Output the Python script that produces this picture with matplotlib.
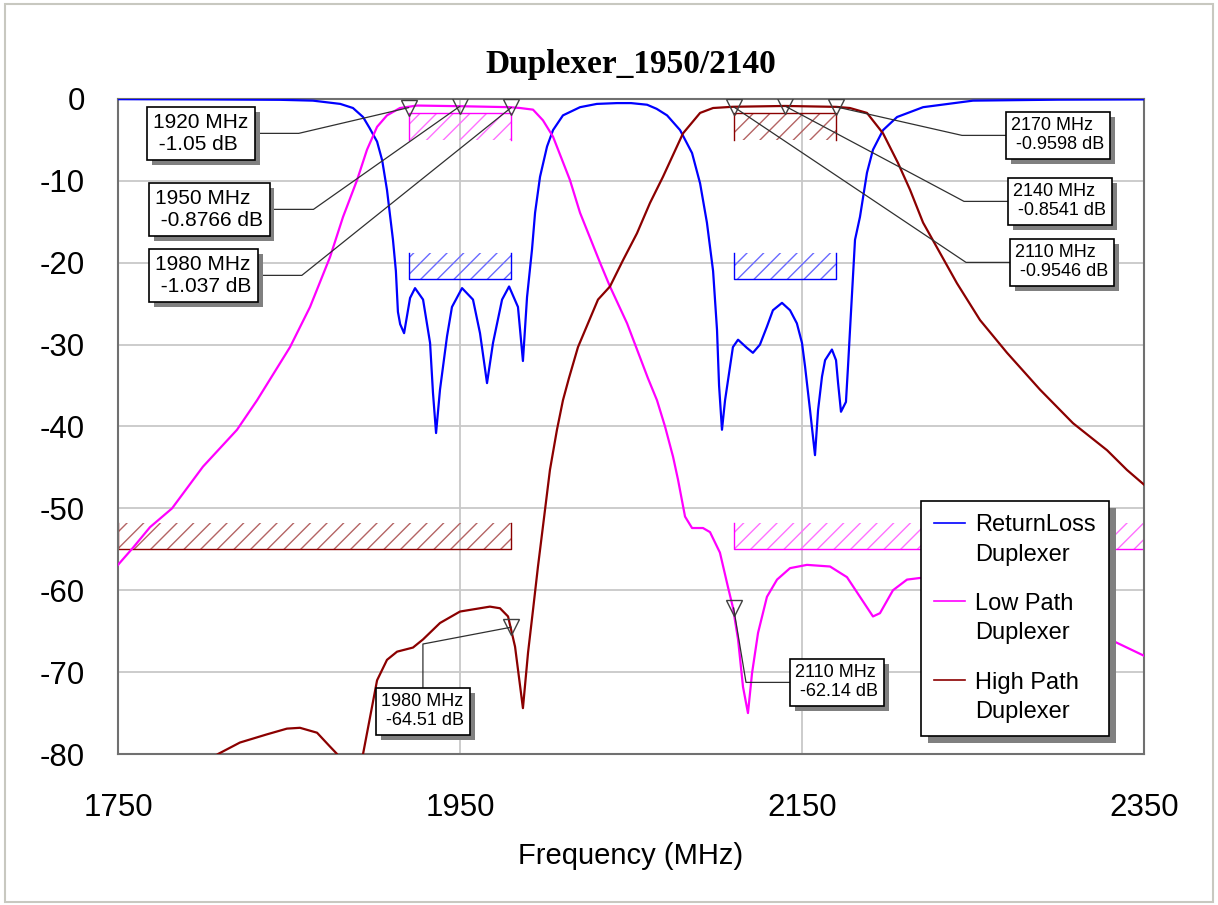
import matplotlib
matplotlib.use("Agg")
import matplotlib.pyplot as plt
import matplotlib.patheffects as pe
from matplotlib.patches import Rectangle
import numpy as np

# ReturnLoss Duplexer (S11)
rl_freq = [1750, 1800, 1845, 1864, 1880, 1887.4, 1893.3, 1897, 1901.5, 1904.5, 1907.3,
           1910.8, 1912.5, 1913.7, 1915, 1917.3, 1920.8, 1923.7, 1928.4, 1932.5, 1934.2,
           1936, 1938.3, 1942.4, 1945.3, 1951.2, 1957.6, 1961.7, 1965.8, 1969.3, 1974.6,
           1978.7, 1983.9, 1986.8, 1989.2, 1992.1, 1993.9, 1996.8, 2000.9, 2004.4, 2010.2,
           2020.2, 2030, 2041.8, 2050, 2059.4, 2065, 2071.1, 2078.7, 2085.7, 2090.4, 2094.4,
           2098, 2100.3, 2101.5, 2103.2, 2105, 2109.6, 2112.6, 2117.8, 2121.3, 2125.4, 2129.5,
           2133, 2138.3, 2143, 2147, 2150, 2151.8, 2154.7, 2157.6, 2159.4, 2161.7, 2163.5,
           2167.5, 2169.9, 2171.1, 2172.8, 2175.7, 2176.9, 2178.5, 2181, 2183.9, 2188,
           2191.5, 2197.4, 2205.6, 2220.8, 2250, 2300, 2350]
rl_db = [-0.02, -0.05, -0.1, -0.2, -0.6, -1.1, -2.2, -3.5, -5.2, -7.5, -11.1,
         -17.2, -21.0, -26.0, -27.5, -28.6, -24.3, -23.1, -24.5, -29.8, -35.9,
         -40.8, -35.5, -29.0, -25.4, -23.1, -24.5, -28.6, -34.7, -29.8, -24.5,
         -22.9, -25.4, -32.0, -24.2, -18.4, -13.9, -9.5, -5.8, -3.8, -2.0,
         -1.0, -0.6, -0.5, -0.5, -0.7, -1.2, -2.0, -3.8, -6.6, -10.3, -15.1,
         -21.0, -28.2, -35.0, -40.4, -36.8, -30.3, -29.4, -30.4, -31.0, -30.0, -27.8,
         -25.8, -24.9, -25.8, -27.4, -29.8, -32.7, -38.0, -43.5, -38.0, -33.9, -31.9,
         -30.6, -31.9, -34.7, -38.2, -37.0, -32.7, -26.6, -17.2, -14.4, -9.0,
         -6.2, -3.8, -2.2, -1.0, -0.2, -0.08, -0.05]

# Low Path Duplexer (Tx)
lp_freq = [1750, 1758.8, 1768.7, 1781.6, 1799.7, 1819.6, 1831.3, 1850.6, 1862.3, 1874,
           1881.6, 1889.8, 1895.6, 1901.5, 1907.3, 1914.9, 1924.9, 1950, 1979.2, 1985.1,
           1992.7, 1998.5, 2004.4, 2014.3, 2020.2, 2031.9, 2037.7, 2047.7, 2059.9, 2065.2,
           2069.9, 2074.6, 2077.5, 2081.6, 2085.7, 2092.1, 2096.2, 2102, 2106.7, 2109.6,
           2112.6, 2115.5, 2118.4, 2120.8, 2124.3, 2129.5, 2135.4, 2143, 2152.9, 2166.4,
           2176.3, 2183.9, 2191.5, 2195.6, 2203.2, 2211.4, 2219, 2260, 2300, 2330, 2350]
lp_db = [-56.9, -54.8, -52.3, -50.0, -44.9, -40.4, -36.8, -30.3, -25.4, -19.3,
         -14.4, -9.9, -6.2, -3.4, -2.0, -1.1, -0.8, -0.88, -1.0, -1.1,
         -1.3, -2.6, -4.6, -9.9, -13.9, -20.0, -22.9, -27.4, -34.1, -36.8,
         -40.0, -43.7, -46.5, -51.0, -52.4, -52.4, -52.9, -55.4, -59.6, -62.1,
         -66.0, -71.8, -75.0, -70.1, -65.2, -60.8, -58.7, -57.3, -56.9, -57.1,
         -58.4, -60.8, -63.2, -62.8, -60.0, -58.7, -58.5, -59.5, -63.0, -66.0, -68.0]

# High Path Duplexer (Rx)
hp_freq = [1800, 1808.5, 1821.3, 1837.1, 1848.8, 1856.4, 1866.4, 1874, 1878.1, 1882,
           1890, 1893.3, 1901.5, 1907.3, 1913.2, 1922.5, 1928.4, 1938.3, 1950, 1967.5,
           1973.4, 1978.1, 1982.2, 1986.8, 1989.8, 1992.7, 1995.6, 1999.7, 2002.6, 2006.7,
           2010.2, 2013.7, 2019, 2030.7, 2037.7, 2045.3, 2053.5, 2061.1, 2068.7, 2080.4,
           2090.4, 2098, 2109.6, 2140, 2170, 2178, 2188, 2197.4, 2206.1, 2213.2,
           2220.8, 2230.7, 2240.6, 2254.1, 2269.9, 2289.2, 2308.5, 2328.4, 2340, 2350]
hp_db = [-81.3, -80.0, -78.6, -77.6, -76.9, -76.8, -77.4, -79.1, -80.0, -84.0,
         -84.0, -80.0, -71.0, -68.5, -67.5, -67.0, -66.0, -64.0, -62.6, -62.0,
         -62.2, -63.2, -66.9, -74.4, -67.6, -62.4, -57.1, -50.2, -45.3, -40.4,
         -36.8, -34.1, -30.3, -24.5, -22.9, -19.7, -16.4, -12.7, -9.5, -4.2,
         -1.7, -1.1, -0.95, -0.85, -0.96, -1.1, -1.7, -4.2, -7.8, -11.1,
         -15.1, -18.8, -22.5, -27.0, -31.0, -35.5, -39.6, -42.9, -45.3, -47.1]

# spec masks: band edges, limit line, edge of the hatched fail zone
mask_f1 = [1920, 2110, 1920, 2110, 1750, 2110]
mask_f2 = [1980, 2170, 1980, 2170, 1980, 2350]
mask_limit = [-1.7, -1.7, -22.0, -22.0, -55.0, -55.0]
mask_hatch_to = [-5.0, -5.0, -18.8, -18.8, -51.8, -51.8]
mask_trace = ["lp", "hp", "rl", "rl", "hp", "lp"]

# markers
mk_freq = [1920, 1950, 1980, 2170, 2140, 2110, 1980, 2110]
mk_db = [-1.05, -0.8766, -1.037, -0.9598, -0.8541, -0.9546, -64.51, -62.14]

colors = {"rl": "#0000ff", "lp": "#ff00ff", "hp": "#8b0000"}
hatch_colors = {"rl": "#6a6aff", "lp": "#ff70ff", "hp": "#b46464"}

FIG_W, FIG_H = 1218, 905
SANS = "Liberation Sans"
plt.rcParams["font.family"] = [SANS, "DejaVu Sans"]
plt.rcParams["hatch.linewidth"] = 1.0
plt.rcParams["axes.unicode_minus"] = False

fig = plt.figure(figsize=(FIG_W / 100, FIG_H / 100), dpi=100)
ax = fig.add_axes([118 / FIG_W, 1 - 754 / FIG_H, (1144 - 118) / FIG_W, (754 - 99) / FIG_H])

for f1, f2, lim, hto, tr in zip(mask_f1, mask_f2, mask_limit, mask_hatch_to, mask_trace):
    ax.add_patch(Rectangle((f1, lim), f2 - f1, hto - lim, fill=False,
                           edgecolor=hatch_colors[tr], hatch="//", lw=0, zorder=1.5))
    ax.plot([f1, f1, f2, f2], [hto, lim, lim, hto], color=colors[tr], lw=1.0, zorder=1.6)

l_rl, = ax.plot(rl_freq, rl_db, color=colors["rl"], lw=1.6, label="ReturnLoss\nDuplexer", zorder=3)
l_lp, = ax.plot(lp_freq, lp_db, color=colors["lp"], lw=1.6, label="Low Path\nDuplexer", zorder=3)
l_hp, = ax.plot(hp_freq, hp_db, color=colors["hp"], lw=1.6, label="High Path\nDuplexer", zorder=3)

ax.plot(mk_freq, mk_db, "v", ms=12, mfc="none", mec="#404040", mew=1.0, zorder=4)

# marker readouts: box top-left in image pixels, font size, leader side
box_px = [(147, 107), (149, 183), (149, 249), (1006, 112), (1008, 178), (1010, 239),
          (376, 688), (790, 659)]
box_fs = [15, 15, 15, 13, 13, 13, 13, 13]
box_side = ["right", "right", "right", "left", "left", "left", "top", "left"]
side_style = {"right": ((1, 0.5), 0), "left": ((0, 0.5), 180), "top": ((0.5, 1), 90)}
shadow = [pe.SimplePatchShadow(offset=(3.5, -3.5), shadow_rgbFace="#808080", alpha=1), pe.Normal()]

for f, db, (bx, by), fs, side in zip(mk_freq, mk_db, box_px, box_fs, box_side):
    pad_px = 0.3 * fs * 100 / 72
    relpos, ang = side_style[side]
    arm = 44 + pad_px
    ann = ax.annotate(f"{f} MHz\n {db:g} dB", xy=(f, db),
                      xytext=(bx + pad_px, FIG_H - by - pad_px), textcoords="figure pixels",
                      ha="left", va="top", fontsize=fs, linespacing=1.15, zorder=6,
                      bbox=dict(boxstyle="square,pad=0.3", fc="white", ec="black", lw=1.2),
                      arrowprops=dict(arrowstyle="-", color="#303030", lw=0.9, relpos=relpos,
                                      shrinkA=0, shrinkB=0,
                                      connectionstyle=f"arc,angleA={ang},armA={arm:.1f},angleB=0,armB=0,rad=0"),
                      annotation_clip=False)
    ann.get_bbox_patch().set_path_effects(shadow)

ax.set_xlim(1750, 2350)
ax.set_ylim(-80, 0)
ax.set_xticks([1750, 1950, 2150, 2350])
ax.set_yticks(np.arange(-80, 1, 10))
ax.tick_params(axis="both", length=0, labelsize=22.5)
ax.tick_params(axis="x", pad=28)
ax.tick_params(axis="y", pad=24)
ax.grid(True, color="#c8c8c8", lw=1.3)
ax.set_axisbelow(True)
for sp in ax.spines.values():
    sp.set_color("#707070")
    sp.set_linewidth(1.5)

ax.set_title("Duplexer_1950/2140", fontsize=24, fontweight="bold",
             family=["Liberation Serif", "DejaVu Serif"], pad=19)
ax.set_xlabel("Frequency (MHz)", fontsize=21, labelpad=14)

leg = ax.legend(handles=[l_rl, l_lp, l_hp], loc="upper left",
                bbox_to_anchor=((921 - 118) / 1026, (754 - 501) / 655), borderaxespad=0,
                fancybox=False, framealpha=1, edgecolor="black", fontsize=17,
                handlelength=1.3, handletextpad=0.45, labelspacing=1.15, borderpad=0.55)
leg.set_zorder(7)
leg.get_frame().set_linewidth(1.2)
leg.get_frame().set_path_effects([pe.SimplePatchShadow(offset=(5, -5), shadow_rgbFace="#808080", alpha=1),
                                  pe.Normal()])
for t in leg.get_texts():
    t.set_linespacing(1.45)
for ln in leg.get_lines():
    ln.set_linewidth(1.2)
    ln.set_ydata(np.asarray(ln.get_ydata()) + 12.5)

fig.patches.append(Rectangle((0.004, 0.003), 0.992, 0.993, transform=fig.transFigure,
                             fill=False, ec="#c8c8c0", lw=1.5))

fig.savefig("out.png", dpi=100)
